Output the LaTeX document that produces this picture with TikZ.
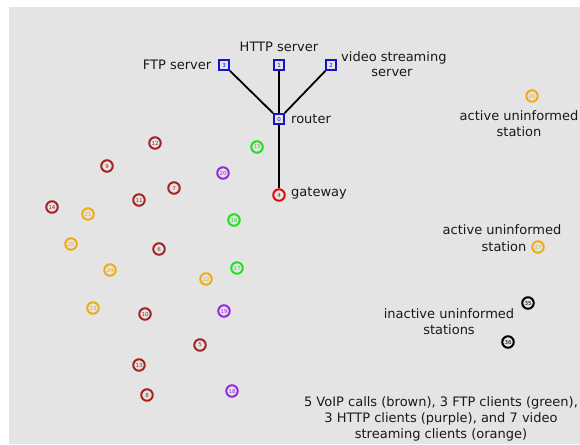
\documentclass[tikz,border=0pt]{standalone}
\usepackage{fontspec}
\setmainfont{DejaVu Sans}
\definecolor{bgc}{RGB}{228,228,228}
\definecolor{cbrown}{RGB}{165,35,35}
\definecolor{cgreen}{RGB}{30,225,30}
\definecolor{cpurple}{RGB}{150,40,225}
\definecolor{corange}{RGB}{238,172,20}
\definecolor{cblue}{RGB}{20,20,200}
\definecolor{cred}{RGB}{225,10,10}
\tikzset{
  stn/.style={circle, draw=#1, text=#1, line width=2pt, minimum size=11.5pt, inner sep=0pt, font=\fontsize{5.5}{5.5}\selectfont},
  srv/.style={rectangle, draw=cblue, text=cblue, line width=1.8pt, minimum size=10pt, inner sep=0pt, font=\fontsize{5.5}{5.5}\selectfont},
  lbl/.style={align=center, inner sep=0pt, font=\fontsize{13}{16}\selectfont, text=black!90},
  link/.style={line width=1.8pt, black}
}
\begin{document}
\begin{tikzpicture}[x=1pt,y=-1pt]
\useasboundingbox (0,0) rectangle (580,444);
\fill[white] (0,0) rectangle (580,444);
\fill[bgc] (9,7) rectangle (580,444);
% servers and router
\node[srv] (ftp) at (224,65) {3};
\node[srv] (http) at (279,65) {1};
\node[srv] (video) at (331,65) {2};
\node[srv] (router) at (279,119) {0};
\node[stn=cred] (gw) at (279,195) {4};
\draw[link] (ftp) -- (router);
\draw[link] (http) -- (router);
\draw[link] (video) -- (router);
\draw[link] (router) -- (gw);
% labels
\node[lbl] (tftp) at (177,65) {FTP server};
\node[lbl] (thttp) at (279,47) {HTTP server};
\node[lbl, anchor=west] (tvid1) at (341,58) {video streaming};
\node[lbl] (tvid2) at (392,73) {server};
\node[lbl, anchor=west] (trouter) at (291,119) {router};
\node[lbl, anchor=west] (tgw) at (291,193) {gateway};
% brown VoIP stations
\node[stn=cbrown] (b12) at (155,143) {12};
\node[stn=cbrown] (b9) at (107,166) {9};
\node[stn=cbrown] (b7) at (174,188) {7};
\node[stn=cbrown] (b11) at (139,200) {11};
\node[stn=cbrown] (b14) at (52,207) {14};
\node[stn=cbrown] (b6) at (159,249) {6};
\node[stn=cbrown] (b10) at (145,314) {10};
\node[stn=cbrown] (b5) at (200,345) {5};
\node[stn=cbrown] (b13) at (139,365) {13};
\node[stn=cbrown] (b8) at (147,395) {8};
% green FTP clients
\node[stn=cgreen] (g15) at (257,147) {15};
\node[stn=cgreen] (g16) at (234,220) {16};
\node[stn=cgreen] (g17) at (237,268) {17};
% purple HTTP clients
\node[stn=cpurple] (p20) at (223,173) {20};
\node[stn=cpurple] (p19) at (224,311) {19};
\node[stn=cpurple] (p18) at (232,391) {18};
% orange video clients
\node[stn=corange] (o21) at (88,214) {21};
\node[stn=corange] (o25) at (71,244) {25};
\node[stn=corange] (o24) at (110,270) {24};
\node[stn=corange] (o22) at (206,279) {22};
\node[stn=corange] (o23) at (93,308) {23};
\node[stn=corange] (o26) at (532,96) {26};
\node[stn=corange] (o27) at (538,247) {27};
% black inactive
\node[stn=black] (k35) at (528,303) {35};
\node[stn=black] (k36) at (508,342) {36};
% right labels
\node[lbl] (ta1) at (519,124) {active uninformed\\station};
\node[lbl] (ta2a) at (502,230) {active uninformed};
\node[lbl] (ta2b) at (504,247) {station};
\node[lbl] (tin) at (449,322) {inactive uninformed\\stations};
\node[lbl] (tleg) at (441,419) {5 VoIP calls (brown), 3 FTP clients (green),\\3 HTTP clients (purple), and 7 video\\streaming clients (orange)};
\end{tikzpicture}
\end{document}
